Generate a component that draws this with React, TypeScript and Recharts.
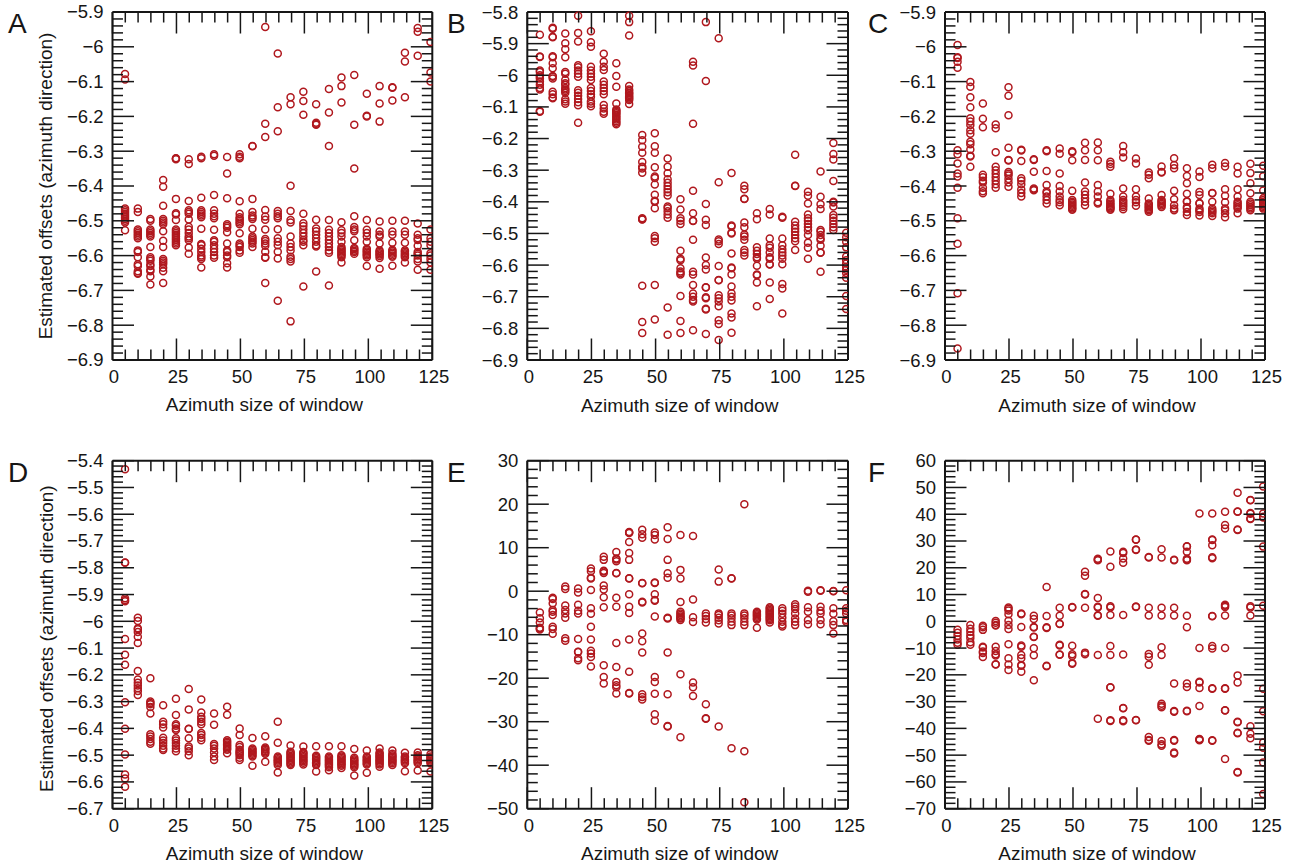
import { Label, Scatter, ScatterChart, XAxis, YAxis } from "recharts"

const FONT = '"Liberation Sans", Arial, sans-serif'
const RED = "#B0181E"
const INK = "#161616"

// measured column positions of the windows on the x axis
const windows = [4.9, 9.9, 14.8, 19.8, 24.8, 29.8, 34.7, 39.7, 44.8, 49.7, 54.7, 59.7, 64.6, 69.6, 74.6, 79.6, 84.6, 89.5, 94.5, 99.4, 104.4, 109.4, 114.3, 119.3, 124.3]

const xMajor = [0, 25, 50, 75, 100, 125]
const xTitle = "Azimuth size of window"
const yTitle = "Estimated offsets (azimuth direction)"

const yMajorABC = [-6.9, -6.8, -6.7, -6.6, -6.5, -6.4, -6.3, -6.2, -6.1, -6, -5.9]
const yMajorB = [-6.9, -6.8, -6.7, -6.6, -6.5, -6.4, -6.3, -6.2, -6.1, -6, -5.9, -5.8]
const yMajorD = [-6.7, -6.6, -6.5, -6.4, -6.3, -6.2, -6.1, -6, -5.9, -5.8, -5.7, -5.6, -5.5, -5.4]
const yMajorE = [-50, -40, -30, -20, -10, 0, 10, 20, 30]
const yMajorF = [-70, -60, -50, -40, -30, -20, -10, 0, 10, 20, 30, 40, 50, 60]

const valuesA = [
  [-6.078, -6.094, -6.465, -6.47, -6.475, -6.48, -6.485, -6.49, -6.495, -6.5, -6.505, -6.527],
  [-6.465, -6.475, -6.525, -6.53, -6.535, -6.54, -6.545, -6.55, -6.585, -6.59, -6.605, -6.625, -6.63, -6.645, -6.65, -6.652],
  [-6.495, -6.5, -6.525, -6.53, -6.535, -6.54, -6.545, -6.575, -6.605, -6.61, -6.615, -6.625, -6.63, -6.64, -6.645, -6.66, -6.683],
  [-6.383, -6.402, -6.457, -6.495, -6.5, -6.505, -6.51, -6.53, -6.557, -6.575, -6.61, -6.615, -6.62, -6.625, -6.635, -6.645, -6.679],
  [-6.32, -6.321, -6.323, -6.437, -6.478, -6.482, -6.498, -6.525, -6.53, -6.535, -6.54, -6.545, -6.55, -6.555, -6.56, -6.565, -6.57],
  [-6.323, -6.337, -6.443, -6.47, -6.475, -6.48, -6.496, -6.517, -6.525, -6.535, -6.545, -6.55, -6.556, -6.577, -6.595],
  [-6.316, -6.32, -6.434, -6.47, -6.475, -6.48, -6.485, -6.49, -6.523, -6.567, -6.57, -6.58, -6.59, -6.6, -6.605, -6.61, -6.634],
  [-6.309, -6.313, -6.426, -6.47, -6.48, -6.487, -6.493, -6.526, -6.556, -6.56, -6.57, -6.58, -6.59, -6.6, -6.606],
  [-6.317, -6.364, -6.435, -6.51, -6.515, -6.52, -6.533, -6.565, -6.585, -6.59, -6.6, -6.605, -6.622, -6.634],
  [-6.309, -6.316, -6.32, -6.444, -6.48, -6.49, -6.495, -6.5, -6.505, -6.51, -6.536, -6.565, -6.57, -6.575, -6.585, -6.592],
  [-6.285, -6.286, -6.437, -6.475, -6.485, -6.49, -6.495, -6.523, -6.545, -6.55, -6.555, -6.56, -6.565, -6.575],
  [-5.943, -6.221, -6.259, -6.469, -6.488, -6.497, -6.525, -6.552, -6.558, -6.565, -6.572, -6.589, -6.605, -6.606, -6.679],
  [-6.019, -6.174, -6.243, -6.472, -6.48, -6.487, -6.493, -6.524, -6.55, -6.56, -6.57, -6.589, -6.608, -6.73],
  [-6.145, -6.165, -6.399, -6.472, -6.498, -6.505, -6.545, -6.565, -6.575, -6.585, -6.603, -6.61, -6.617, -6.789],
  [-6.129, -6.156, -6.195, -6.48, -6.507, -6.515, -6.525, -6.535, -6.545, -6.555, -6.56, -6.57, -6.689],
  [-6.165, -6.218, -6.222, -6.224, -6.497, -6.522, -6.53, -6.54, -6.55, -6.56, -6.57, -6.574, -6.646],
  [-6.121, -6.189, -6.285, -6.498, -6.526, -6.535, -6.545, -6.555, -6.565, -6.575, -6.585, -6.592, -6.686],
  [-6.088, -6.113, -6.16, -6.504, -6.527, -6.535, -6.545, -6.56, -6.575, -6.58, -6.584, -6.588, -6.592, -6.596, -6.6, -6.605, -6.62],
  [-6.081, -6.224, -6.35, -6.487, -6.518, -6.525, -6.53, -6.556, -6.578, -6.582, -6.586, -6.59, -6.595],
  [-6.135, -6.198, -6.2, -6.498, -6.526, -6.535, -6.545, -6.56, -6.58, -6.584, -6.588, -6.592, -6.596, -6.6, -6.605, -6.63],
  [-6.113, -6.163, -6.215, -6.502, -6.531, -6.54, -6.545, -6.565, -6.585, -6.589, -6.593, -6.597, -6.601, -6.607, -6.638],
  [-6.116, -6.118, -6.154, -6.5, -6.531, -6.54, -6.563, -6.583, -6.587, -6.591, -6.595, -6.6, -6.603, -6.629],
  [-6.017, -6.042, -6.145, -6.5, -6.531, -6.54, -6.563, -6.585, -6.589, -6.593, -6.597, -6.601, -6.605, -6.62],
  [-5.946, -5.957, -6.026, -6.508, -6.54, -6.55, -6.555, -6.572, -6.59, -6.595, -6.6, -6.61, -6.617, -6.641],
  [-5.986, -6.074, -6.1, -6.525, -6.55, -6.56, -6.57, -6.593, -6.6, -6.61, -6.62, -6.641],
]

const valuesB = [
  [-5.872, -5.941, -5.942, -5.985, -5.99, -6.0, -6.005, -6.01, -6.02, -6.03, -6.04, -6.045, -6.113, -6.115],
  [-5.85, -5.853, -5.878, -5.88, -5.94, -5.943, -5.962, -5.978, -6.002, -6.005, -6.01, -6.052, -6.06, -6.07, -6.073],
  [-5.868, -5.899, -5.918, -5.943, -5.99, -5.995, -6.015, -6.025, -6.03, -6.04, -6.045, -6.05, -6.055, -6.076, -6.083, -6.09],
  [-5.812, -5.866, -5.893, -5.968, -5.975, -5.985, -5.995, -6.005, -6.047, -6.055, -6.065, -6.075, -6.085, -6.095, -6.15],
  [-5.861, -5.896, -5.91, -5.973, -5.985, -5.995, -6.005, -6.015, -6.04, -6.05, -6.06, -6.068, -6.083, -6.09, -6.098],
  [-5.932, -5.957, -5.973, -5.983, -6.02, -6.03, -6.04, -6.05, -6.06, -6.094, -6.105, -6.115, -6.122],
  [-5.962, -6.002, -6.036, -6.089, -6.108, -6.112, -6.116, -6.12, -6.125, -6.13, -6.135, -6.14, -6.145, -6.15, -6.155],
  [-5.812, -5.832, -5.874, -6.034, -6.045, -6.05, -6.055, -6.058, -6.062, -6.066, -6.07, -6.074, -6.078, -6.091],
  [-6.189, -6.205, -6.226, -6.245, -6.274, -6.289, -6.295, -6.308, -6.452, -6.455, -6.456, -6.665, -6.78, -6.815],
  [-6.183, -6.224, -6.245, -6.291, -6.32, -6.325, -6.345, -6.378, -6.397, -6.4, -6.42, -6.508, -6.515, -6.526, -6.663, -6.772],
  [-6.263, -6.289, -6.31, -6.329, -6.34, -6.35, -6.36, -6.37, -6.38, -6.415, -6.42, -6.43, -6.44, -6.45, -6.734, -6.82],
  [-6.392, -6.424, -6.452, -6.46, -6.47, -6.555, -6.58, -6.585, -6.61, -6.62, -6.625, -6.63, -6.698, -6.777, -6.815],
  [-5.957, -5.969, -6.153, -6.365, -6.436, -6.46, -6.461, -6.52, -6.621, -6.63, -6.663, -6.69, -6.7, -6.71, -6.715, -6.806],
  [-5.832, -6.018, -6.407, -6.457, -6.473, -6.576, -6.6, -6.614, -6.67, -6.671, -6.702, -6.705, -6.738, -6.74, -6.818],
  [-5.883, -6.338, -6.519, -6.525, -6.533, -6.603, -6.647, -6.648, -6.695, -6.705, -6.715, -6.73, -6.774, -6.786, -6.837],
  [-6.309, -6.475, -6.478, -6.498, -6.5, -6.563, -6.608, -6.61, -6.63, -6.668, -6.689, -6.7, -6.712, -6.753, -6.766, -6.814],
  [-6.349, -6.36, -6.39, -6.391, -6.465, -6.48, -6.503, -6.51, -6.52, -6.552, -6.56, -6.57],
  [-6.436, -6.455, -6.544, -6.555, -6.565, -6.575, -6.58, -6.602, -6.63, -6.632, -6.655, -6.73],
  [-6.423, -6.44, -6.516, -6.537, -6.545, -6.56, -6.575, -6.58, -6.597, -6.598, -6.655, -6.707],
  [-6.447, -6.45, -6.516, -6.537, -6.55, -6.56, -6.57, -6.58, -6.597, -6.66, -6.674, -6.753],
  [-6.251, -6.349, -6.35, -6.463, -6.475, -6.485, -6.495, -6.505, -6.515, -6.525, -6.552],
  [-6.368, -6.381, -6.405, -6.44, -6.452, -6.46, -6.47, -6.48, -6.49, -6.505, -6.529, -6.545, -6.58],
  [-6.304, -6.384, -6.408, -6.423, -6.489, -6.495, -6.505, -6.515, -6.52, -6.539, -6.56, -6.561, -6.621],
  [-6.214, -6.249, -6.266, -6.334, -6.4, -6.402, -6.415, -6.442, -6.45, -6.46, -6.47, -6.48, -6.489],
  [-6.498, -6.512, -6.526, -6.544, -6.573, -6.585, -6.595, -6.605, -6.615, -6.625, -6.64, -6.698, -6.739],
]

const valuesC = [
  [-5.995, -6.03, -6.032, -6.043, -6.06, -6.297, -6.309, -6.335, -6.364, -6.373, -6.405, -6.493, -6.566, -6.708, -6.867],
  [-6.101, -6.115, -6.145, -6.174, -6.205, -6.215, -6.225, -6.24, -6.25, -6.273, -6.28, -6.295, -6.313, -6.315, -6.345],
  [-6.163, -6.207, -6.231, -6.368, -6.375, -6.385, -6.39, -6.405, -6.415, -6.421],
  [-6.223, -6.234, -6.303, -6.345, -6.355, -6.365, -6.375, -6.385, -6.395, -6.405],
  [-6.116, -6.141, -6.197, -6.29, -6.325, -6.327, -6.36, -6.365, -6.37, -6.38, -6.39, -6.402],
  [-6.296, -6.298, -6.328, -6.378, -6.385, -6.395, -6.41, -6.42, -6.43],
  [-6.323, -6.325, -6.359, -6.407, -6.41, -6.412],
  [-6.297, -6.3, -6.357, -6.397, -6.416, -6.42, -6.43, -6.44, -6.45],
  [-6.292, -6.307, -6.364, -6.4, -6.416, -6.43, -6.44, -6.447, -6.455],
  [-6.3, -6.303, -6.326, -6.414, -6.44, -6.445, -6.449, -6.453, -6.457, -6.461, -6.465, -6.468],
  [-6.276, -6.297, -6.325, -6.39, -6.416, -6.425, -6.435, -6.445, -6.455],
  [-6.275, -6.297, -6.326, -6.397, -6.416, -6.43, -6.447, -6.45],
  [-6.33, -6.337, -6.345, -6.422, -6.44, -6.445, -6.45, -6.454, -6.458, -6.462, -6.465, -6.468],
  [-6.285, -6.303, -6.318, -6.407, -6.43, -6.44, -6.445, -6.45, -6.455, -6.46, -6.467],
  [-6.321, -6.335, -6.409, -6.43, -6.44, -6.447, -6.457],
  [-6.361, -6.368, -6.378, -6.436, -6.45, -6.454, -6.458, -6.462, -6.466, -6.47, -6.474],
  [-6.344, -6.36, -6.361, -6.426, -6.44, -6.444, -6.448, -6.452, -6.456, -6.46],
  [-6.32, -6.34, -6.349, -6.414, -6.438, -6.455, -6.465, -6.47],
  [-6.349, -6.371, -6.392, -6.422, -6.444, -6.445, -6.46, -6.465, -6.475, -6.483],
  [-6.358, -6.374, -6.417, -6.426, -6.449, -6.45, -6.465, -6.47, -6.475, -6.485],
  [-6.339, -6.349, -6.42, -6.421, -6.445, -6.465, -6.47, -6.474, -6.478, -6.486],
  [-6.334, -6.344, -6.409, -6.428, -6.447, -6.465, -6.47, -6.478, -6.49],
  [-6.345, -6.364, -6.409, -6.43, -6.445, -6.45, -6.455, -6.46, -6.465, -6.478],
  [-6.336, -6.363, -6.392, -6.421, -6.445, -6.45, -6.455, -6.46, -6.465, -6.47],
  [-6.342, -6.372, -6.413, -6.435, -6.44, -6.445, -6.449, -6.453, -6.457, -6.461, -6.465],
]

const valuesD = [
  [-5.432, -5.78, -5.781, -5.914, -5.92, -5.925, -6.066, -6.125, -6.162, -6.302, -6.401, -6.498, -6.572, -6.587, -6.618],
  [-5.987, -5.999, -6.026, -6.03, -6.04, -6.058, -6.081, -6.186, -6.217, -6.23, -6.24, -6.25, -6.26, -6.275],
  [-6.213, -6.3, -6.305, -6.31, -6.32, -6.344, -6.422, -6.43, -6.44, -6.45, -6.457],
  [-6.314, -6.375, -6.385, -6.397, -6.435, -6.445, -6.455, -6.465, -6.475, -6.481],
  [-6.289, -6.35, -6.385, -6.39, -6.4, -6.406, -6.437, -6.445, -6.455, -6.465, -6.475, -6.485],
  [-6.253, -6.329, -6.401, -6.402, -6.437, -6.468, -6.475, -6.485, -6.5],
  [-6.292, -6.341, -6.357, -6.365, -6.375, -6.385, -6.417, -6.425, -6.435, -6.444],
  [-6.344, -6.386, -6.458, -6.465, -6.475, -6.49, -6.505, -6.518],
  [-6.319, -6.349, -6.444, -6.45, -6.455, -6.46, -6.465, -6.47, -6.475, -6.48, -6.493],
  [-6.4, -6.425, -6.462, -6.47, -6.48, -6.485, -6.49, -6.495, -6.5, -6.51, -6.518],
  [-6.436, -6.475, -6.48, -6.485, -6.49, -6.495, -6.5, -6.505, -6.54],
  [-6.429, -6.471, -6.476, -6.48, -6.485, -6.49, -6.495, -6.525],
  [-6.375, -6.454, -6.505, -6.51, -6.515, -6.52, -6.525, -6.53, -6.537, -6.565],
  [-6.464, -6.487, -6.492, -6.497, -6.502, -6.507, -6.512, -6.517, -6.522, -6.527, -6.532, -6.537],
  [-6.468, -6.488, -6.493, -6.498, -6.503, -6.508, -6.513, -6.518, -6.523, -6.528, -6.535],
  [-6.467, -6.502, -6.507, -6.512, -6.517, -6.522, -6.527, -6.532, -6.537, -6.561],
  [-6.467, -6.505, -6.51, -6.515, -6.52, -6.525, -6.53, -6.535, -6.54, -6.545, -6.556],
  [-6.467, -6.5, -6.505, -6.51, -6.515, -6.52, -6.525, -6.53, -6.535, -6.54, -6.548],
  [-6.477, -6.51, -6.515, -6.52, -6.525, -6.53, -6.535, -6.54, -6.545, -6.576],
  [-6.483, -6.505, -6.51, -6.515, -6.52, -6.525, -6.53, -6.535, -6.566],
  [-6.475, -6.49, -6.495, -6.5, -6.505, -6.51, -6.515, -6.52, -6.525, -6.53, -6.535, -6.543],
  [-6.483, -6.495, -6.5, -6.505, -6.51, -6.515, -6.52, -6.525, -6.53, -6.537],
  [-6.491, -6.505, -6.51, -6.515, -6.52, -6.525, -6.53, -6.56],
  [-6.49, -6.5, -6.505, -6.51, -6.515, -6.52, -6.525, -6.53, -6.557],
  [-6.497, -6.505, -6.51, -6.515, -6.52, -6.525, -6.53, -6.561],
]

const valuesE = [
  [-4.9, -6.2, -7.2, -8.4, -8.6, -8.8],
  [-1.5, -1.8, -2.8, -4.3, -4.7, -5.5, -8.2, -8.7, -9.8],
  [1.1, 0.5, -3.3, -4.3, -5.1, -6.1, -10.8, -11.4],
  [0.6, -0.3, -3.1, -4.5, -5.1, -11, -13.9, -14, -15.4, -15.9],
  [5.2, 4.6, 3.1, 2.9, 0.3, -3.9, -5.2, -8.2, -11.1, -13.7, -14.3, -15.1, -17.3],
  [7.9, 7.2, 4.7, 4.5, 4.2, 1.3, 0.4, -1.4, -3.7, -17, -19.7, -21.2],
  [9, 7.5, 7.3, 6.9, 4.2, 4.1, -1.5, -3.6, -11.9, -17.4, -20.9, -21.6, -22.1, -23.5],
  [13.6, 13.5, 13.4, 11.3, 8.8, 7.2, 3, 2.9, -0.7, -3.6, -5, -11.1, -18.5, -23.4, -23.5],
  [14.1, 13.1, 12.3, 1.9, 1.8, -2.4, -2.6, -9.7, -11.5, -14.1, -23.7, -24.3, -24.9],
  [13.5, 12.9, 11.9, 2, 1.9, -0.7, -2, -2.2, -5.8, -19.7, -20.9, -23.6, -28.3, -29.8],
  [14.7, 12, 7.2, 4.1, 3.1, -6.1, -6.3, -14.1, -23.7, -31, -31.1],
  [12.9, 4.9, 2.9, -2.5, -4.7, -5.1, -5.5, -5.8, -6.1, -6.3, -6.6, -19.1, -33.6],
  [12.7, -1.9, -6, -7.1, -21, -22.1, -24.1],
  [-5.1, -5.7, -6.4, -7.2, -26, -29.2, -29.3],
  [5, 2.2, -5.1, -5.5, -6.1, -6.7, -7.4, -31.1],
  [3, 2.9, -5.1, -5.6, -6.2, -7, -7.8, -36.1],
  [20, -5.1, -5.6, -6.2, -7, -7.8, -36.8, -48.5],
  [-4.7, -5, -5.3, -5.6, -5.9, -6.2, -6.5, -8.4],
  [-3.7, -4, -4.3, -4.6, -4.9, -5.2, -5.5, -5.8, -6.1, -6.4, -6.7, -7.2],
  [-3.9, -4.5, -5.2, -6.1, -7, -7.7, -8.1],
  [-3, -3.5, -4.1, -5.1, -6.3, -7, -7.8],
  [0.1, -0.1, -3.7, -4.7, -6.6, -7.6],
  [0.2, 0.1, -3.6, -4.5, -5.1, -6.6, -7.6],
  [0, 0.05, -3.9, -5.2, -6.9, -7.8, -9.7],
  [0.2, -3.9, -4.5, -5.1, -6.6, -7],
]

const valuesF = [
  [-3.2, -4.3, -5.5, -6.8, -8, -8.8],
  [-1.4, -2.8, -3.9, -5.2, -6.2, -7.8, -8.8],
  [-1.7, -2.2, -3.2, -9.5, -9.8, -11.3, -11.8, -13.3],
  [0.1, -0.5, -1.4, -1.6, -9.5, -11.1, -12.3, -12.8, -16.1, -16],
  [5.2, 4.7, 4, 2.6, 0.2, -1.4, -2.9, -8.6, -13.8, -16.1, -18.2],
  [2.9, 2.6, -2.1, -9.5, -9, -12.6, -13.8, -16.3, -16.6, -18.8],
  [2.1, 0.9, -2.1, -2.3, -5.9, -5.8, -10.1, -12.7, -22],
  [12.8, 2, -2.2, -2.5, -16.8, -16.6],
  [5.1, 2.1, -0.9, -1, -9, -8.8, -12.4, -12.5],
  [5.2, 5.3, -9.1, -12.3, -13, -15.9, -15.6],
  [18.5, 17, 10, 10.2, 5.1, -11.7, -12.3],
  [23, 23.4, 22.8, 8.7, 5.2, 5.4, 2.1, 2.3, -12.6, -36.4],
  [26.1, 20.4, 5.6, 5.2, 2.4, -9.2, -12.6, -24.7, -24.6, -37.2, -37],
  [26, 25.5, 23.5, 21.9, 2.4, -12.4, -32.4, -32.5, -37.3, -37],
  [30.5, 30.6, 26.8, 26.6, 5.3, 5.5, -36.9, -37],
  [23.8, 24, 5.1, 2.2, -12.2, -13.2, -16.2, -43.2, -44.3, -44.6],
  [26.9, 23.8, 5.1, 2.2, -9.7, -12.6, -30.8, -31.5, -32.1, -44.7, -45.9, -46.5],
  [22.8, 23, 5.1, 2.2, -23.2, -33.8, -33.5, -44.6, -44.3, -49.4, -49],
  [27.9, 28, 26, 23, 23.4, 22.8, 2.1, -2.2, -23.2, -24.5, -33.6, -33.4],
  [40.3, -10, -22.9, -22.6, -24.9, -31.6, -44.2, -44, -44.4],
  [40.3, 30.4, 30.6, 28.4, 23.6, 23.9, 1.9, 2, -9.2, -10.2, -25.2, -25, -44.6, -44.4],
  [40.9, 36, 34.7, 5.8, 6.2, 5.3, 2.2, -10, -25.2, -25, -33.2, -33.3, -51.4],
  [48, 40.9, 41, 34.1, 34.3, -20.2, -22.9, -37.7, -37.5, -41.8, -41.6, -56.5, -56.3],
  [45.2, 45.3, 40.5, 40.2, 38.2, 38.4, 5.6, 5.2, 2.2, -39.2, -42, -43.7],
  [50.4, 40.3, 39.1, 38.8, 27.9, 5.8, -25.2, -33.6, -45.3, -47.2, -52.7, -64.5],
]

const minorsPerMajor = 5
const xMinorStep = 5

function fillTicks(majors: number[]) {
  const out: number[] = []
  majors.forEach((m, i) => {
    out.push(m)
    if (i < majors.length - 1) {
      const step = (majors[i + 1] - m) / minorsPerMajor
      for (let k = 1; k < minorsPerMajor; k++) out.push(Number((m + k * step).toFixed(3)))
    }
  })
  return out
}

const xTicks: number[] = []
for (let v = 0; v <= 125; v += xMinorStep) xTicks.push(v)

const Ring = (props: any) => (
  <circle cx={props.cx} cy={props.cy} r={3.5} fill="none" stroke={RED} strokeWidth={1.5} />
)

function Panel({ letter, letterX, values, yMajor, left, right, top, bottom, yTitleShift }: any) {
  const data = values.flatMap((col: number[], i: number) => col.map((y) => ({ x: windows[i], y })))
  const yTicks = fillTicks(yMajor)
  const isMajorY = (v: number) => yMajor.some((m: number) => Math.abs(m - v) < 1e-6)
  const chartW = right + 40
  const chartH = bottom + 56
  const plotH = bottom - top
  const frame = { stroke: INK, strokeWidth: 2 }

  const xTick = (side: string) => (p: any) => {
    const major = xMajor.includes(p.payload.value)
    const len = major ? 21.5 : 10.5
    const dir = side === "bottom" ? -1 : 1
    const edge = side === "bottom" ? bottom : top
    return (
      <g>
        <line x1={p.x} x2={p.x} y1={edge} y2={edge + dir * len} stroke={INK} strokeWidth={1.5} />
        {side === "bottom" && major ? (
          <text x={p.x + 1.5} y={bottom + 23} textAnchor="middle" fontSize={18.5} fontFamily={FONT} fill={INK}>
            {p.payload.value}
          </text>
        ) : null}
      </g>
    )
  }

  const yTick = (side: string) => (p: any) => {
    const major = isMajorY(p.payload.value)
    const len = major ? 21.5 : 10.5
    const dir = side === "left" ? 1 : -1
    const edge = side === "left" ? left : right
    return (
      <g>
        <line x1={edge} x2={edge + dir * len} y1={p.y} y2={p.y} stroke={INK} strokeWidth={1.5} />
        {side === "left" && major ? (
          <text x={left - 9} y={p.y + 6.5} textAnchor="end" fontSize={18.5} fontFamily={FONT} fill={INK}>
            {String(p.payload.value).replace("-", "\u2212")}
          </text>
        ) : null}
      </g>
    )
  }

  return (
    <div style={{ position: "absolute", left: 0, top: 0 }}>
      <div style={{ position: "absolute", left: letterX, top: top - 2, fontFamily: FONT, fontSize: 28, lineHeight: "28px", color: INK }}>
        {letter}
      </div>
      <ScatterChart
        width={chartW}
        height={chartH}
        margin={{ left: left - 1, top: top - 1, right: chartW - right - 1, bottom: chartH - bottom - 1 }}
      >
        <XAxis
          xAxisId="b"
          orientation="bottom"
          type="number"
          dataKey="x"
          domain={[0, 125]}
          allowDataOverflow
          ticks={xTicks}
          interval={0}
          height={1}
          tickSize={0}
          tickMargin={0}
          tickLine={false}
          tick={xTick("bottom")}
          axisLine={frame}
        >
          <Label
            content={() => (
              <text x={(left + right) / 2 - 8} y={bottom + 51.5} textAnchor="middle" fontSize={19} fontFamily={FONT} fill={INK}>
                {xTitle}
              </text>
            )}
          />
        </XAxis>
        <XAxis
          xAxisId="t"
          orientation="top"
          type="number"
          dataKey="x"
          domain={[0, 125]}
          ticks={xTicks}
          interval={0}
          height={1}
          tickSize={0}
          tickMargin={0}
          tickLine={false}
          tick={xTick("top")}
          axisLine={frame}
        />
        <YAxis
          yAxisId="l"
          orientation="left"
          type="number"
          dataKey="y"
          domain={[yMajor[0], yMajor[yMajor.length - 1]]}
          ticks={yTicks}
          interval={0}
          width={1}
          tickSize={0}
          tickMargin={0}
          tickLine={false}
          tick={yTick("left")}
          axisLine={frame}
        >
          {yTitleShift !== undefined ? (
            <Label
              content={() => (
                <text
                  transform={`translate(${left - 60},${top + plotH / 2 + yTitleShift}) rotate(-90)`}
                  textAnchor="middle"
                  fontSize={19}
                  fontFamily={FONT}
                  fill={INK}
                >
                  {yTitle}
                </text>
              )}
            />
          ) : null}
        </YAxis>
        <YAxis
          yAxisId="r"
          orientation="right"
          type="number"
          dataKey="y"
          domain={[yMajor[0], yMajor[yMajor.length - 1]]}
          ticks={yTicks}
          interval={0}
          width={1}
          tickSize={0}
          tickMargin={0}
          tickLine={false}
          tick={yTick("right")}
          axisLine={frame}
        />
        {/* binds the top and right axes so they draw their ticks */}
        <Scatter xAxisId="t" yAxisId="r" data={data} shape={() => null} isAnimationActive={false} />
        <Scatter xAxisId="b" yAxisId="l" data={data} shape={Ring} isAnimationActive={false} />
      </ScatterChart>
    </div>
  )
}

export default function App() {
  return (
    <div style={{ position: "absolute", left: 0, top: 0, width: 1293, height: 865, background: "#fff" }}>
      <Panel letter="A" letterX={8} values={valuesA} yMajor={yMajorABC} left={112.5} right={432.3} top={12} bottom={360} yTitleShift={0} />
      <Panel letter="B" letterX={447} values={valuesB} yMajor={yMajorB} left={527.3} right={848} top={12} bottom={360} />
      <Panel letter="C" letterX={868} values={valuesC} yMajor={yMajorABC} left={945} right={1265} top={12} bottom={360} />
      <Panel letter="D" letterX={8} values={valuesD} yMajor={yMajorD} left={112.5} right={432.3} top={460.7} bottom={808.7} yTitleShift={4} />
      <Panel letter="E" letterX={447} values={valuesE} yMajor={yMajorE} left={527.3} right={848} top={460.7} bottom={808.7} />
      <Panel letter="F" letterX={868} values={valuesF} yMajor={yMajorF} left={945} right={1265} top={460.7} bottom={808.7} />
    </div>
  )
}
